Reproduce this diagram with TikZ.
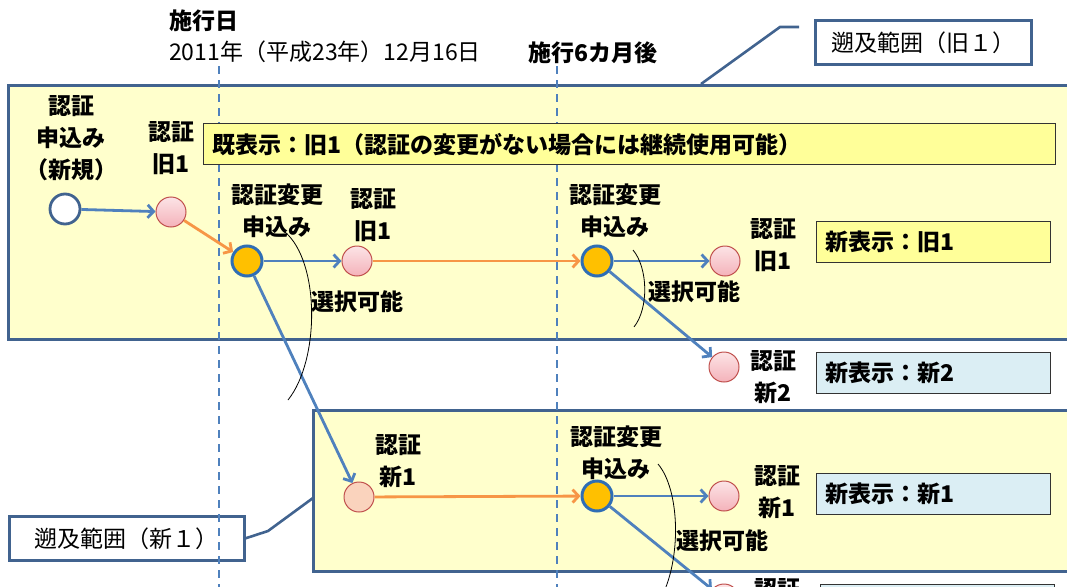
\documentclass[tikz,border=0pt]{standalone}
\usepackage{fontspec}
\setmainfont{Noto Sans CJK JP}
\usetikzlibrary{arrows.meta}

\definecolor{frameblue}{HTML}{41638F}
\definecolor{lineblue}{HTML}{4F81BD}
\definecolor{paleyellow}{HTML}{FFFFCC}
\definecolor{baryellow}{HTML}{FFFF99}
\definecolor{barblue}{HTML}{DBEEF4}
\definecolor{flowor}{HTML}{F79646}
\definecolor{changeor}{HTML}{FFC000}
\definecolor{changeedge}{HTML}{2F6EB5}
\definecolor{pinkedge}{HTML}{C0504D}
\definecolor{pinktop}{HTML}{FCE4E6}
\definecolor{pinkbot}{HTML}{F4B2BA}
\definecolor{peach}{HTML}{FAD3BD}

\begin{document}
\begin{tikzpicture}[
        x = 1pt, y = -1pt,
        > = {Straight Barb[length=6pt, width=13pt]},
        txt/.style = {font = \fontsize{23}{31}\selectfont, inner sep = 0pt},
        bold/.style = {font = \fontsize{23}{32}\selectfont\bfseries, inner sep = 0pt, align = center},
        rangebox/.style = {draw = frameblue, line width = 3pt, fill = paleyellow},
        callout/.style = {draw = frameblue, line width = 2.6pt, fill = white,
            minimum height = 44pt, font = \fontsize{23}{26}\selectfont},
        dispbar/.style = {draw = black!80, line width = 1.2pt, minimum height = 41pt,
            inner xsep = 9pt, anchor = north west, align = left,
            font = \fontsize{23}{26}\selectfont\bfseries},
        blueflow/.style = {draw = lineblue, line width = 2.8pt, ->},
        orflow/.style = {draw = flowor, line width = 2.8pt, ->},
        dot/.style = {circle, minimum size = 30pt, inner sep = 0pt},
        opendot/.style = {dot, draw = frameblue, line width = 2.8pt, fill = white},
        certdot/.style = {dot, draw = pinkedge, line width = 1pt,
            top color = pinktop, bottom color = pinkbot},
        changedot/.style = {dot, draw = changeedge, line width = 3pt, fill = changeor},
        brace/.style = {black, line width = 0.8pt},
        limit/.style = {lineblue, line width = 2.2pt, dash pattern = on 8pt off 6pt}
    ]

        \useasboundingbox (0, 0) rectangle (1067, 586);
        \clip (0, 0) rectangle (1067, 586);

        % Retroactive ranges.
        \draw[rangebox] (8, 85) rectangle (1080, 339);
        \draw[rangebox] (313, 410) rectangle (1080, 571);

        % Callouts.
        \node (rangeOld) [callout, minimum width = 216pt, anchor = north west] at (814, 19) {遡及範囲（旧１）};
        \node (rangeNew) [callout, minimum width = 235pt, anchor = north west] at (8, 515) {遡及範囲（新１）};
        \coordinate (oldFoot) at (701, 84);
        \coordinate (oldBend) at (780, 27);
        \coordinate (oldTail) at (799, 27);
        \coordinate (newFoot) at (313, 498);
        \coordinate (newBend) at (268, 531);
        \draw[frameblue, line width = 2.6pt] (oldFoot) -- (oldBend) -- (oldTail);
        \draw[frameblue, line width = 2.6pt] (rangeNew.east) -- (newBend) -- (newFoot);

        % Dates.
        \coordinate (dayTop) at (219, 66);
        \coordinate (dayEnd) at (219, 590);
        \coordinate (sixTop) at (557, 66);
        \coordinate (sixEnd) at (557, 590);
        \draw[limit] (dayTop) -- (dayEnd);
        \draw[limit] (sixTop) -- (sixEnd);
        \node (day) [txt, anchor = west, font = \fontsize{23}{26}\selectfont\bfseries] at (169, 21) {施行日};
        \node (date) [txt, anchor = west] at (169, 52) {2011年（平成23年）12月16日};
        \node (six) [txt, anchor = west, font = \fontsize{23}{26}\selectfont\bfseries] at (528, 53) {施行6カ月後};

        % Display bars.
        \node (barOld) [dispbar, fill = baryellow, text width = 834pt] at (203, 123) {既表示：旧1（認証の変更がない場合には継続使用可能）};
        \node (barOld1) [dispbar, fill = baryellow, text width = 216pt] at (816, 221) {新表示：旧1};
        \node (barNew2) [dispbar, fill = barblue, text width = 216pt] at (816, 352) {新表示：新2};
        \node (barNew1) [dispbar, fill = barblue, text width = 216pt] at (816, 473) {新表示：新1};
        \node (barNext) [dispbar, fill = barblue, text width = 216pt] at (820, 584) {};

        % States.
        \node (apply) [opendot] at (65, 209) {};
        \node (old1) [certdot] at (171, 212) {};
        \node (chgA) [changedot] at (247, 261) {};
        \node (old1b) [certdot] at (357, 261) {};
        \node (chgB) [changedot] at (597, 261) {};
        \node (old1c) [certdot] at (725, 261) {};
        \node (new2) [certdot] at (724, 367) {};
        \node (new1) [dot, draw = pinkedge, line width = 1pt, fill = peach] at (359, 497) {};
        \node (chgC) [changedot] at (597, 496) {};
        \node (new1b) [certdot] at (724, 496) {};
        \node (next) [certdot] at (724, 599) {};

        % Transitions.
        \draw[blueflow] (apply) -- (old1);
        \draw[orflow] (old1) -- (chgA);
        \draw[blueflow] (chgA) -- (old1b);
        \draw[blueflow] (chgA) -- (new1);
        \draw[orflow] (old1b) -- (chgB);
        \draw[blueflow] (chgB) -- (old1c);
        \draw[blueflow] (chgB) -- (new2);
        \draw[orflow] (new1) -- (chgC);
        \draw[blueflow] (chgC) -- (new1b);
        \draw[blueflow] (chgC) -- (next);

        % Choice braces.
        \draw[brace] (285, 232) .. controls (320, 262) and (320, 360) .. (288, 400);
        \draw[brace] (633, 250) .. controls (648, 268) and (649, 308) .. (634, 327);
        \draw[brace] (658, 464) .. controls (680, 490) and (682, 560) .. (660, 600);

        % Labels.
        \node (lblApply) [bold] at (71, 138) {認証\\申込み\\（新規）};
        \node (lblOld1) [bold] at (171, 148) {認証\\旧1};
        \node (lblChgA) [bold] at (277, 211) {認証変更\\申込み};
        \node (lblOld1b) [bold] at (373, 215) {認証\\旧1};
        \node (lblChgB) [bold] at (615, 211) {認証変更\\申込み};
        \node (lblOld1c) [bold] at (773, 245) {認証\\旧1};
        \node (lblNew2) [bold] at (773, 377) {認証\\新2};
        \node (lblNew1) [bold] at (398, 461) {認証\\新1};
        \node (lblChgC) [bold] at (616, 453) {認証変更\\申込み};
        \node (lblNew1b) [bold] at (777, 492) {認証\\新1};
        \node (lblNext) [bold] at (777, 589) {認証};
        \node (pickA) [bold] at (357, 302) {選択可能};
        \node (pickB) [bold] at (694, 292) {選択可能};
        \node (pickC) [bold] at (722, 541) {選択可能};
    \end{tikzpicture}
\end{document}
